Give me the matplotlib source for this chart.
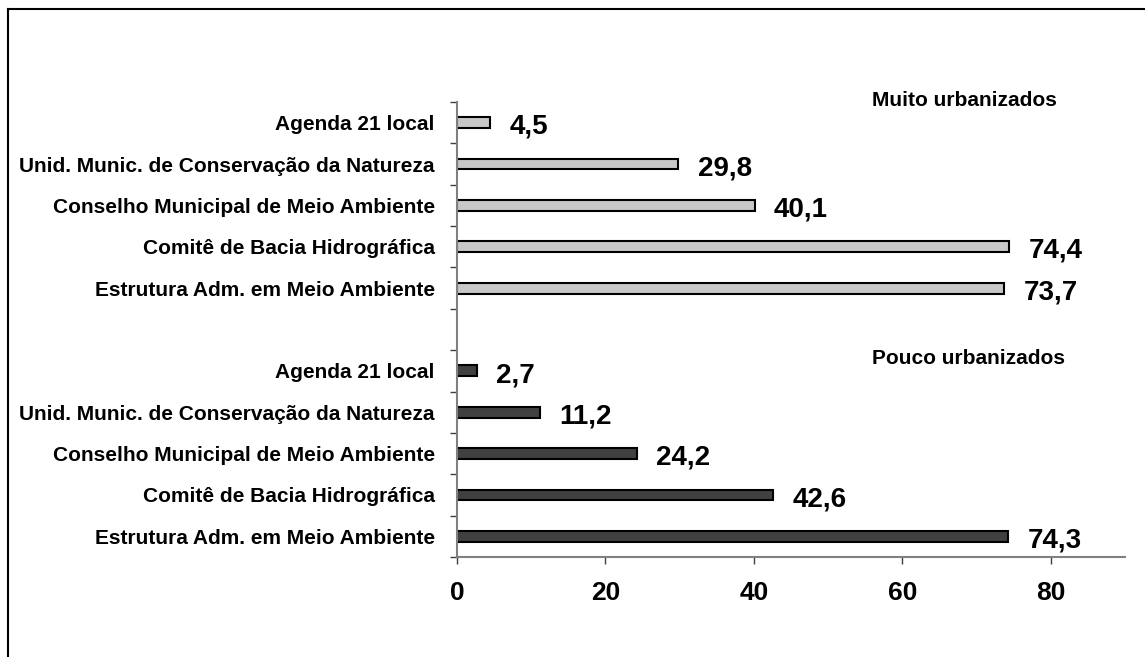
import numpy as np
import matplotlib
matplotlib.use('Agg')
import matplotlib.pyplot as plt
from matplotlib.lines import Line2D

# dados (de cima para baixo em cada grupo)
categorias = ["Agenda 21 local",
              "Unid. Munic. de Conservação da Natureza",
              "Conselho Municipal de Meio Ambiente",
              "Comitê de Bacia Hidrográfica",
              "Estrutura Adm. em Meio Ambiente"]
muito_urb = [4.5, 29.8, 40.1, 74.4, 73.7]
pouco_urb = [2.7, 11.2, 24.2, 42.6, 74.3]
grupos = ["Muito urbanizados", "Pouco urbanizados"]
xticks = [0, 20, 40, 60, 80]

plt.rcParams['font.family'] = ['Liberation Sans', 'DejaVu Sans']
plt.rcParams['font.weight'] = 'bold'

fig = plt.figure(figsize=(11.45, 6.57), dpi=100)
ax = fig.add_axes([457 / 1145, 100 / 657, 668 / 1145, 455 / 657])

n = len(categorias)
# posições: 11 faixas, grupo de cima em 10..6, vazio em 5, grupo de baixo em 4..0
y_top = np.arange(2 * n, n, -1)
y_bot = np.arange(n - 1, -1, -1)

ax.barh(y_top, muito_urb, height=0.26, color='#c8c8c8', edgecolor='black', linewidth=1.5)
ax.barh(y_bot, pouco_urb, height=0.26, color='#404040', edgecolor='black', linewidth=1.5)

for ys, vals in [(y_top, muito_urb), (y_bot, pouco_urb)]:
    for y, v in zip(ys, vals):
        ax.annotate(f"{v:.1f}".replace('.', ','), xy=(v, y), xytext=(14, -3),
                    textcoords='offset points', ha='left', va='center',
                    fontsize=20, fontweight='bold')

ax.set_xlim(0, 90)
ax.set_ylim(-0.5, 2 * n + 0.5)
ax.set_xticks(xticks)
ax.set_xticklabels([str(t) for t in xticks], fontsize=19, fontweight='bold')
ax.tick_params(axis='x', length=5, width=1, color='#404040', pad=12)

ax.set_yticks(list(y_top) + list(y_bot))
ax.set_yticklabels(categorias + categorias, fontsize=15, fontweight='bold')
ax.tick_params(axis='y', which='major', length=0, pad=16)
ax.set_yticks(np.arange(-0.5, 2 * n + 1, 1), minor=True)
ax.tick_params(axis='y', which='minor', length=5, width=1, color='#404040')

for s in ['top', 'right']:
    ax.spines[s].set_visible(False)
for s in ['left', 'bottom']:
    ax.spines[s].set_color('#808080')
    ax.spines[s].set_linewidth(1.5)

fig.text(872 / 1145, 1 - 100 / 657, grupos[0], fontsize=15, fontweight='bold', va='center')
fig.text(872 / 1145, 1 - 358 / 657, grupos[1], fontsize=15, fontweight='bold', va='center')

# moldura
fig.add_artist(Line2D([8 / 1145, 8 / 1145], [0, 1 - 9 / 657], transform=fig.transFigure, color='black', lw=1.5))
fig.add_artist(Line2D([8 / 1145, 1], [1 - 9 / 657, 1 - 9 / 657], transform=fig.transFigure, color='black', lw=1.5))

fig.savefig('out.png', dpi=100)
